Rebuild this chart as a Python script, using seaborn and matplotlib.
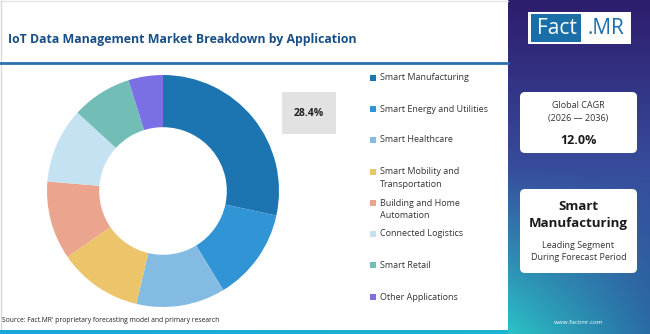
import numpy as np
import matplotlib
matplotlib.use("Agg")
import matplotlib.pyplot as plt
from matplotlib.patches import Rectangle, FancyBboxPatch
import seaborn as sns

# ---- data ----
categories = ["Smart Manufacturing", "Smart Energy and Utilities", "Smart Healthcare",
              "Smart Mobility and\nTransportation", "Building and Home\nAutomation",
              "Connected Logistics", "Smart Retail", "Other Applications"]
shares = [28.4, 12.9, 12.4, 11.7, 10.9, 10.5, 8.4, 4.8]
colors = ["#1c75b0", "#3194d4", "#84bbe2", "#ecc56b", "#eba58f", "#c5e2f2", "#72bdb5", "#7b6fe5"]
title = "IoT Data Management Market Breakdown by Application"
highlight_label = "28.4%"
cagr_label = "12.0%"
cagr_period = "(2026 \u2014 2036)"
leading_segment = "Smart\nManufacturing"
source = "Source: Fact.MR' proprietary forecasting model and primary research"

sns.set_theme(style="white")
plt.rcParams['font.family'] = ['Open Sans', 'DejaVu Sans']

W, H = 650, 334
fig = plt.figure(figsize=(W / 100, H / 100), dpi=100)
fig.patch.set_facecolor("white")

# background axis in pixel coordinates
bg = fig.add_axes([0, 0, 1, 1])
bg.set_xlim(0, W)
bg.set_ylim(H, 0)
bg.axis("off")

# right panel gradient
gy = np.linspace(0, 1, 200)[:, None]
gx = np.linspace(0, 1, 60)[None, :]
top = np.array([0x2e, 0x1c, 0x6c]) / 255
mid = np.array([0x37, 0x4c, 0x9c]) / 255
bot_l = np.array([0x2a, 0xc2, 0xc6]) / 255
bot_r = np.array([0x2a, 0x6c, 0xa4]) / 255
t = gy[..., None]
s = gx[..., None]
bottom = bot_l * (1 - s) + bot_r * s
upper = top * (1 - t / 0.5) + mid * (t / 0.5)
lower = mid * (1 - (t - 0.5) / 0.5) + bottom * ((t - 0.5) / 0.5)
img = np.clip(np.where(t < 0.5, upper, lower), 0, 1)
bg.imshow(img, extent=(508, 650, 334, 0), aspect="auto", zorder=0)

# left border and bottom strip
bg.plot([0.5, 0.5], [0, 331], color="#d8d8d8", lw=1, zorder=1)
bg.plot([0, 508], [0.5, 0.5], color="#e4e4e4", lw=1, zorder=1)
strip = np.linspace(0, 1, 100)[None, :, None]
strip_img = np.array([0x1a, 0xa6, 0xd8]) / 255 * (1 - strip) + np.array([0x1c, 0xb4, 0xd0]) / 255 * strip
bg.imshow(strip_img, extent=(0, 508, 334, 330.5), aspect="auto", zorder=1)

# title and rule
bg.text(8, 40, title, fontsize=8.9, fontweight="bold", color="#1a4f86", va="center", ha="left")
bg.plot([0, 508], [63, 63], color="#2a70ad", lw=2, zorder=2)

# logo
bg.add_patch(Rectangle((528, 12), 103, 32, facecolor="white", edgecolor="none", zorder=3))
bg.add_patch(Rectangle((531, 14), 50, 28, facecolor="#1b6fa8", edgecolor="none", zorder=4))
bg.text(557, 28.5, "Fact", fontsize=15, color="white", ha="center", va="center", zorder=5)
bg.text(606, 28.5, ".MR", fontsize=15, color="#1b6fa8", ha="center", va="center", zorder=5)

# CAGR box
bg.add_patch(FancyBboxPatch((520, 92), 117, 61, boxstyle="round,pad=0,rounding_size=5",
                            facecolor="white", edgecolor="none", zorder=3))
bg.text(578.5, 106, "Global CAGR", fontsize=6.5, color="#333333", ha="center", va="center", zorder=5)
bg.text(578.5, 119, cagr_period, fontsize=6.5, color="#333333", ha="center", va="center", zorder=5)
bg.text(578.5, 140, cagr_label, fontsize=9, fontweight="bold", color="#1a1a1a", ha="center", va="center", zorder=5)

# leading segment box
bg.add_patch(FancyBboxPatch((520, 189), 117, 84, boxstyle="round,pad=0,rounding_size=5",
                            facecolor="white", edgecolor="none", zorder=3))
for i, line in enumerate(leading_segment.split("\n")):
    bg.text(578.5, 206 + 18 * i, line, fontsize=9.5, fontweight="bold", color="#1a1a1a",
            ha="center", va="center", zorder=5)
bg.text(578.5, 245, "Leading Segment", fontsize=6.5, color="#333333", ha="center", va="center", zorder=5)
bg.text(578.5, 258, "During Forecast Period", fontsize=6.5, color="#333333", ha="center", va="center", zorder=5)
bg.text(579, 323, "www.factmr.com", fontsize=4.5, color="white", ha="center", va="center", zorder=5)

# source
bg.text(2, 320, source, fontsize=4.9, color="#222222", ha="left", va="center")

# highlight box
bg.add_patch(Rectangle((282, 92), 54, 42, facecolor="#e2e2e2", edgecolor="none", zorder=3))
bg.text(309, 113, highlight_label, fontsize=7.5, fontweight="bold", color="#222222",
        ha="center", va="center", zorder=4)

# legend
leg_y = [78, 109, 140, 172, 203, 234, 265, 297]
for lab, col, y in zip(categories, colors, leg_y):
    bg.add_patch(Rectangle((370, y - 2.7), 5.5, 5.5, facecolor=col, edgecolor="none", zorder=3))
    for i, line in enumerate(lab.split("\n")):
        bg.text(380, y + 12.5 * i, line, fontsize=6.5, color="#333333", ha="left", va="center", zorder=3)

# donut
cx, cy, r = 163, 191, 116
pax = fig.add_axes([(cx - r) / W, (H - cy - r) / H, 2 * r / W, 2 * r / H])
pax.pie(shares, colors=colors, startangle=90, counterclock=False, radius=1,
        wedgeprops=dict(width=0.45, edgecolor="none"))
pax.set_xlim(-1, 1)
pax.set_ylim(-1, 1)
pax.set_aspect("equal")
pax.axis("off")

fig.savefig("out.png", dpi=100)
